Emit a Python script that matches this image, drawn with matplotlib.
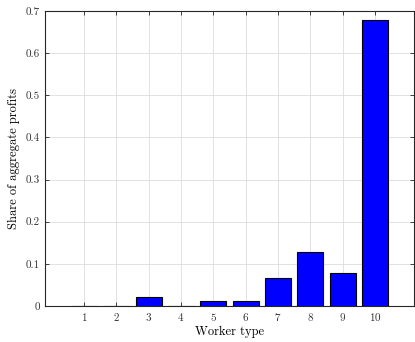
import numpy as np
import matplotlib.pyplot as plt

plt.rcParams['font.family'] = 'serif'
plt.rcParams['font.serif'] = ['cmr10', 'DejaVu Serif']
plt.rcParams['mathtext.fontset'] = 'cm'
plt.rcParams['axes.formatter.use_mathtext'] = True

# Data
worker_types = [1, 2, 3, 4, 5, 6, 7, 8, 9, 10]
profit_share = [0.001, 0.001, 0.021, 0.001, 0.011, 0.013, 0.066, 0.128, 0.078, 0.678]

fig = plt.figure(figsize=(4.15, 3.42), dpi=100)
ax = fig.add_axes([0.1084, 0.1053, 0.8892, 0.8625])

ax.bar(worker_types, profit_share, width=0.8, color='#0000ff', edgecolor='black', linewidth=0.8, zorder=3)

ax.set_xlim(-0.2, 11.2)
ax.set_ylim(0, 0.7)
ax.set_xticks(worker_types)
ax.set_yticks(np.arange(0, 0.71, 0.1))
ax.set_yticklabels(['0', '0.1', '0.2', '0.3', '0.4', '0.5', '0.6', '0.7'])
ax.grid(True, color='#dddddd', linewidth=0.6, zorder=0)
ax.tick_params(direction='in', top=True, right=True, labelsize=8, length=3, width=0.6, colors='#262626')
for tl in ax.get_xticklabels() + ax.get_yticklabels():
    tl.set_color('#333333')
for s in ax.spines.values():
    s.set_linewidth(0.8)
    s.set_color('#262626')

ax.set_xlabel('Worker type', fontsize=9, labelpad=2)
ax.set_ylabel('Share of aggregate profits', fontsize=9, labelpad=4)

fig.savefig('out.png', dpi=100)
